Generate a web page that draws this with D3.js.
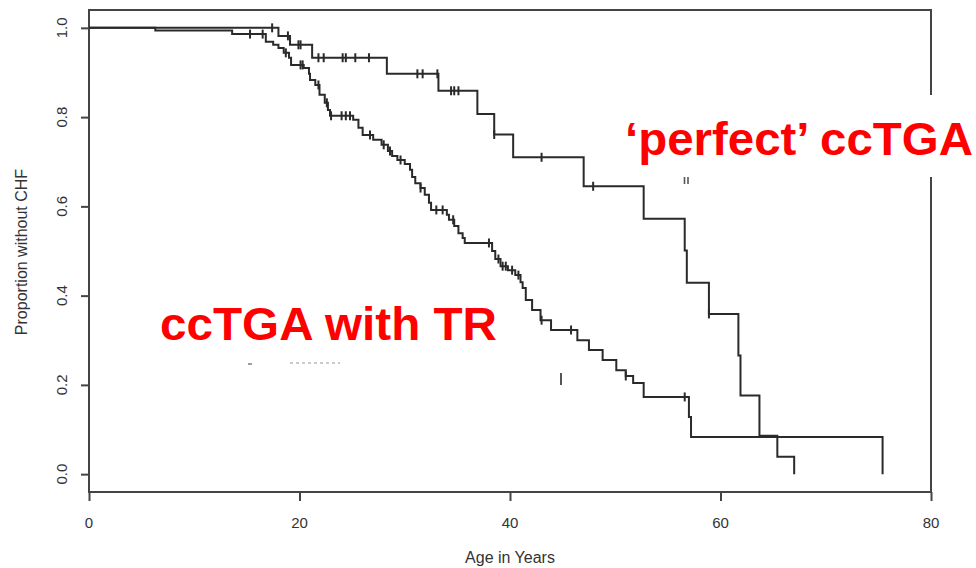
<!DOCTYPE html>
<html lang="en">
<head>
  <meta charset="UTF-8">
  <title>Proportion without CHF</title>
  <script src="https://d3js.org/d3.v7.min.js"></script>
  <style>
    html, body { margin: 0; padding: 0; background: #fff; }
    svg { display: block; }
    .tick-label { font-family: "Liberation Sans", Arial, sans-serif; font-size: 15px; fill: #333; }
    .axis-title { font-family: "Liberation Sans", Arial, sans-serif; font-size: 16px; fill: #333; }
    .big-label { font-family: "Liberation Sans", Arial, sans-serif; font-size: 46px; font-weight: bold; fill: #ff0000; }
  </style>
</head>
<body>
  <div id="chart"></div>

  <script>
    // axis ticks
    const xTicks = [0, 20, 40, 60, 80];
    const yTicks = [0, 0.2, 0.4, 0.6, 0.8, 1.0];
    const yTickLabels = ["0.0", "0.2", "0.4", "0.6", "0.8", "1.0"];

    // ccTGA with TR : event ages and survival after each drop
    const trTimes = [6.3, 13.6, 16.8, 17.5, 18.0, 18.5, 19.0, 19.2, 20.4, 20.9, 21.0, 21.5, 21.9, 22.4, 22.7, 22.9,
      25.1, 25.6, 26.0, 27.0, 27.8, 28.4, 28.8, 29.3, 30.0, 30.5, 30.7, 31.0, 31.5, 31.9, 32.3, 32.5,
      34.0, 34.2, 34.7, 35.1, 35.5, 35.7, 38.3, 38.6, 39.1, 39.8, 40.5, 41.0, 41.2, 41.5, 42.1, 42.9, 43.9,
      46.4, 47.5, 48.8, 50.1, 51.0, 51.7, 52.7, 57.0, 57.2, 75.4];
    const trSurv = [0.994, 0.986, 0.969, 0.962, 0.955, 0.944, 0.933, 0.917, 0.910, 0.897, 0.883, 0.872, 0.850, 0.832, 0.816, 0.803,
      0.794, 0.776, 0.760, 0.749, 0.738, 0.724, 0.713, 0.704, 0.695, 0.682, 0.666, 0.652, 0.641, 0.626, 0.608, 0.592,
      0.581, 0.570, 0.556, 0.540, 0.529, 0.518, 0.500, 0.482, 0.466, 0.457, 0.446, 0.430, 0.417, 0.390, 0.368, 0.345, 0.323,
      0.300, 0.278, 0.256, 0.233, 0.220, 0.204, 0.173, 0.128, 0.083, 0];
    const trCensor = [15.3, 16.5, 18.7, 20.1, 20.3, 21.8, 22.6, 23.0, 24.0, 24.4, 24.8, 26.7, 28.0, 28.6, 29.6, 31.5,
      33.0, 33.6, 34.6, 38.0, 38.9, 39.3, 39.6, 40.2, 40.8, 43.0, 45.8, 51.0, 56.6];

    // 'perfect' ccTGA
    const pfTimes = [18.0, 19.1, 21.2, 28.3, 33.2, 36.9, 38.5, 40.3, 47.0, 52.7, 56.6, 56.8, 58.9, 61.7, 61.9, 63.7, 65.4, 67.0];
    const pfSurv = [0.982, 0.962, 0.933, 0.897, 0.859, 0.807, 0.761, 0.710, 0.645, 0.572, 0.501, 0.429, 0.359, 0.266, 0.176, 0.086, 0.039, 0];
    const pfCensor = [17.4, 18.9, 19.9, 20.1, 21.8, 22.3, 24.1, 24.4, 25.3, 26.6, 31.2, 31.7, 33.1, 34.4, 34.7, 35.1,
      38.5, 43.0, 47.9, 58.9];

    const width = 976, height = 568;
    const plot = { left: 89, right: 931, top: 10, bottom: 492 };

    const svg = d3.select("#chart").append("svg")
      .attr("width", width)
      .attr("height", height);

    const x = d3.scaleLinear().domain([0, 80]).range([plot.left, plot.right]);
    const y = d3.scaleLinear().domain([-0.04, 1.04]).range([plot.bottom, plot.top]);

    const ink = "#2a2a2a";

    // frame
    svg.append("rect")
      .attr("x", plot.left).attr("y", plot.top)
      .attr("width", plot.right - plot.left).attr("height", plot.bottom - plot.top)
      .attr("fill", "none").attr("stroke", "#444").attr("stroke-width", 2);

    // y axis
    const yAxis = svg.append("g").attr("transform", `translate(${plot.left},0)`)
      .call(d3.axisLeft(y).tickValues(yTicks).tickSize(8).tickFormat(""));
    yAxis.select(".domain").remove();
    yAxis.selectAll("line").attr("stroke", "#444").attr("stroke-width", 2);

    svg.selectAll(".ylab")
      .data(yTicks)
      .enter()
      .append("text")
      .attr("class", "tick-label")
      .attr("text-anchor", "middle")
      .attr("transform", d => `translate(67,${y(d)}) rotate(-90)`)
      .text((d, i) => yTickLabels[i]);

    // x axis
    const xAxis = svg.append("g").attr("transform", `translate(0,${plot.bottom})`)
      .call(d3.axisBottom(x).tickValues(xTicks).tickSize(9).tickFormat(""));
    xAxis.select(".domain").remove();
    xAxis.selectAll("line").attr("stroke", "#444").attr("stroke-width", 2);

    svg.selectAll(".xlab")
      .data(xTicks)
      .enter()
      .append("text")
      .attr("class", "tick-label")
      .attr("text-anchor", "middle")
      .attr("x", d => x(d))
      .attr("y", 528)
      .text(d => d);

    svg.append("text")
      .attr("class", "axis-title")
      .attr("text-anchor", "middle")
      .attr("x", 510).attr("y", 563)
      .text("Age in Years");

    svg.append("text")
      .attr("class", "axis-title")
      .attr("text-anchor", "middle")
      .attr("transform", `translate(27,252) rotate(-90)`)
      .text("Proportion without CHF");

    // survival curves
    const line = d3.line()
      .x(d => x(d[0]))
      .y(d => y(d[1]))
      .curve(d3.curveStepAfter);

    function curvePoints(times, surv) {
      return [[0, 1]].concat(times.map((t, i) => [t, surv[i]]));
    }

    function survAt(times, surv, t) {
      let s = 1;
      times.forEach((tt, i) => { if (tt <= t) s = surv[i]; });
      return s;
    }

    const curves = [
      { times: trTimes, surv: trSurv, censor: trCensor },
      { times: pfTimes, surv: pfSurv, censor: pfCensor }
    ];

    curves.forEach(c => {
      svg.append("path")
        .datum(curvePoints(c.times, c.surv))
        .attr("d", line)
        .attr("fill", "none")
        .attr("stroke", ink)
        .attr("stroke-width", 2);

      svg.selectAll(null)
        .data(c.censor)
        .enter()
        .append("line")
        .attr("x1", d => x(d)).attr("x2", d => x(d))
        .attr("y1", d => y(survAt(c.times, c.surv, d)) - 4.5)
        .attr("y2", d => y(survAt(c.times, c.surv, d)) + 4.5)
        .attr("stroke", ink)
        .attr("stroke-width", 2);
    });

    // white patch behind the upper label (covers the frame there)
    svg.append("rect")
      .attr("x", 618).attr("y", 95)
      .attr("width", 358).attr("height", 82)
      .attr("fill", "#fff");

    svg.append("text")
      .attr("class", "big-label")
      .attr("x", 625).attr("y", 155)
      .attr("textLength", 348)
      .attr("lengthAdjust", "spacingAndGlyphs")
      .text("\u2018perfect\u2019 ccTGA");

    svg.append("text")
      .attr("class", "big-label")
      .attr("x", 160).attr("y", 340)
      .attr("textLength", 337)
      .attr("lengthAdjust", "spacingAndGlyphs")
      .text("ccTGA with TR");

    // leftover marks of the scanned figure
    const marks = svg.append("g").attr("stroke", "#555").attr("stroke-width", 1.6);
    marks.append("line").attr("x1", 684.5).attr("x2", 684.5).attr("y1", 177).attr("y2", 184);
    marks.append("line").attr("x1", 688).attr("x2", 688).attr("y1", 177).attr("y2", 184);
    marks.append("line").attr("x1", 561).attr("x2", 561).attr("y1", 373).attr("y2", 385).attr("stroke-width", 2);
    marks.append("line").attr("x1", 248).attr("x2", 252).attr("y1", 364).attr("y2", 364).attr("stroke", "#888");
    marks.append("line").attr("x1", 290).attr("x2", 340).attr("y1", 363).attr("y2", 363)
      .attr("stroke", "#bbb").attr("stroke-dasharray", "3,3");
  </script>
</body>
</html>
